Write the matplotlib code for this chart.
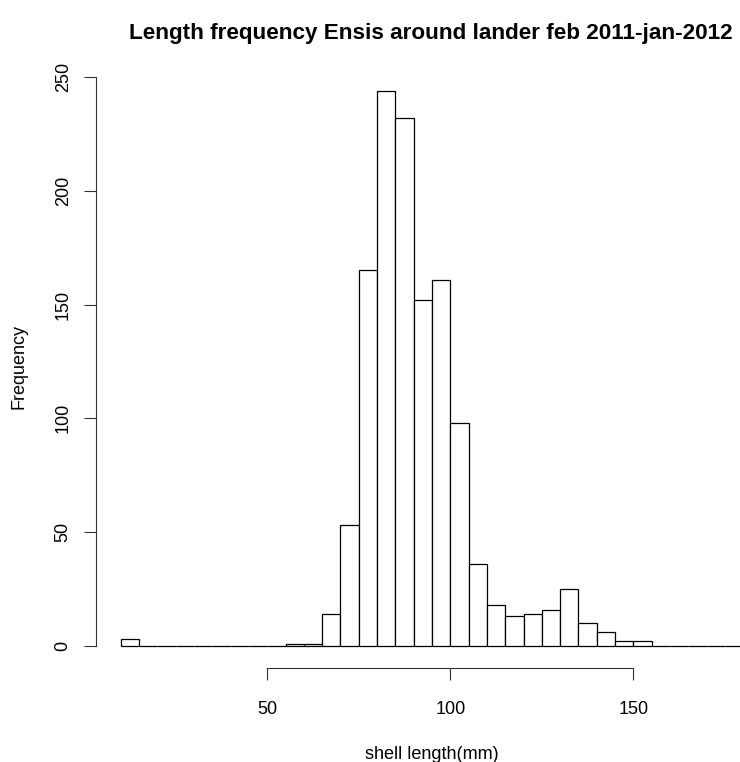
import numpy as np
import matplotlib
matplotlib.use("Agg")
import matplotlib.pyplot as plt

plt.rcParams['font.family'] = ['Liberation Sans', 'DejaVu Sans']

# Histogram of shell lengths, 5 mm bins from 10 to 180 mm
bin_edges = list(range(10, 185, 5))
counts = [3, 0, 0, 0, 0, 0, 0, 0, 0, 1, 1, 14, 53, 165, 244, 232, 152, 161,
          98, 36, 18, 13, 14, 16, 25, 10, 6, 2, 2, 0, 0, 0, 0, 0]
x_ticks = [50, 100, 150]
y_ticks = [0, 50, 100, 150, 200, 250]

title = "Length frequency Ensis around lander feb 2011-jan-2012"
x_label = "shell length(mm)"
y_label = "Frequency"

W, H = 740, 762
fig = plt.figure(figsize=(W / 100, H / 100), dpi=100)

# Plot region in pixels (extends past the right edge of the canvas)
left_px, right_px = 96, 768
top_px, bottom_px = 68.4, 668.2
ax = fig.add_axes([left_px / W, 1 - bottom_px / H,
                   (right_px - left_px) / W, (bottom_px - top_px) / H])

lefts = np.array(bin_edges[:-1])
widths = np.diff(bin_edges)
ax.bar(lefts, counts, width=widths, align='edge', facecolor='white',
       edgecolor='black', linewidth=0.9)

xmin, xmax = bin_edges[0], bin_edges[-1]
dx = 0.04 * (xmax - xmin)
ymax = max(counts)
dy = 0.04 * ymax
ax.set_xlim(xmin - dx, xmax + dx)
ax.set_ylim(-dy, ymax + dy)

for side in ['top', 'right']:
    ax.spines[side].set_visible(False)
ax.spines['left'].set_bounds(y_ticks[0], y_ticks[-1])
ax.spines['bottom'].set_bounds(x_ticks[0], x_ticks[-1])
for side in ['left', 'bottom']:
    ax.spines[side].set_linewidth(0.8)
    ax.spines[side].set_color('#333333')

ax.set_xticks(x_ticks)
ax.set_yticks(y_ticks)
ax.set_xticklabels([str(v) for v in x_ticks])
ax.set_yticklabels([str(v) for v in y_ticks], rotation=90, va='center')
ax.tick_params(axis='both', direction='out', length=8.5, width=0.8,
               color='#333333', labelsize=13)
ax.tick_params(axis='x', pad=15)
ax.tick_params(axis='y', pad=9)

fig.text(431 / W, 1 - 39 / H, title, ha='center', va='baseline',
         fontsize=16.2, fontweight='bold')
fig.text(432 / W, 1 - 759 / H, x_label, ha='center', va='baseline',
         fontsize=13)
fig.text(19 / W, 1 - 367 / H, y_label, ha='center', va='center',
         rotation=90, fontsize=13)

fig.savefig("out.png", dpi=100)
